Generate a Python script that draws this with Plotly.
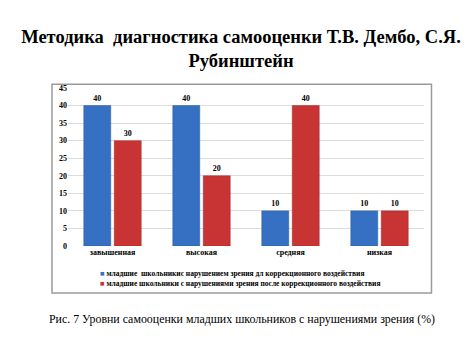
import plotly.graph_objects as go

categories = ["завышенная", "высокая", "средняя", "низкая"]
before = [40, 40, 10, 10]
after = [30, 20, 40, 10]
series_names = [
    "младшие  школьникис нарушением зрения дл коррекционного воздействия",
    "младшие школьники с нарушениями зрения после коррекционного воздействия",
]
series_colors = ["#3570c2", "#c83434"]
y_ticks = [0, 5, 10, 15, 20, 25, 30, 35, 40, 45]

SERIF = "Liberation Serif"

fig = go.Figure()
for vals, name, col, lc in [(before, series_names[0], series_colors[0], "#2a5a9e"),
                            (after, series_names[1], series_colors[1], "#9e2828")]:
    fig.add_trace(go.Bar(
        x=categories, y=vals, name=name,
        marker=dict(color=col, line=dict(color=lc, width=0.5)),
        text=vals, textposition="outside", texttemplate="%{text}",
        textfont=dict(family=SERIF, size=8, color="black", weight="bold"),
        cliponaxis=False, showlegend=False,
    ))

legend_annotations = []
for i, (name, col) in enumerate(zip(series_names, series_colors)):
    legend_annotations.append(dict(
        text=f"<span style='color:{col}'>■</span> {name}",
        xref="paper", yref="paper", x=0.083, y=-0.175 - i * 0.063,
        xanchor="left", yanchor="middle", showarrow=False,
        font=dict(family=SERIF, size=7.5, color="black", weight="bold"),
    ))

fig.update_layout(
    width=466, height=347,
    margin=dict(l=60, r=49.5, t=79.6, b=109, autoexpand=False),
    paper_bgcolor="white", plot_bgcolor="white",
    barmode="group", bargap=0.315, bargroupgap=0.115,
    font=dict(family=SERIF, color="black"),
    title=dict(
        text="Методика  диагностика самооценки Т.В. Дембо, С.Я.<br>Рубинштейн",
        font=dict(family=SERIF, size=18.5, color="black", weight="bold"),
        x=0.5, xanchor="center", xref="container",
        y=0.9, yanchor="top", yref="container",
        automargin=False,
    ),
    xaxis=dict(
        tickfont=dict(family=SERIF, size=8, color="black", weight="bold"),
        showgrid=False, showline=False, ticks="",
    ),
    yaxis=dict(
        range=[0, 45], tickvals=y_ticks,
        tickfont=dict(family=SERIF, size=8, color="black", weight="bold"),
        showgrid=True, gridcolor="#dcdcdc", gridwidth=1,
        zeroline=False, showline=False, ticks="",
    ),
    showlegend=False,
    shapes=[dict(
        type="rect", xref="paper", yref="paper",
        x0=-0.045, x1=1.021, y0=-0.297, y1=1.023,
        line=dict(color="#9a9a9a", width=1.5), fillcolor="rgba(0,0,0,0)",
        layer="below",
    )],
    annotations=legend_annotations + [dict(
        text="Рис. 7 Уровни самооценки младших школьников с нарушениями зрения (%)",
        xref="paper", yref="paper", x=0.488, y=-0.461,
        xanchor="center", yanchor="middle", showarrow=False,
        font=dict(family=SERIF, size=11.9, color="black"),
    )],
)

fig.write_html("out.html")
